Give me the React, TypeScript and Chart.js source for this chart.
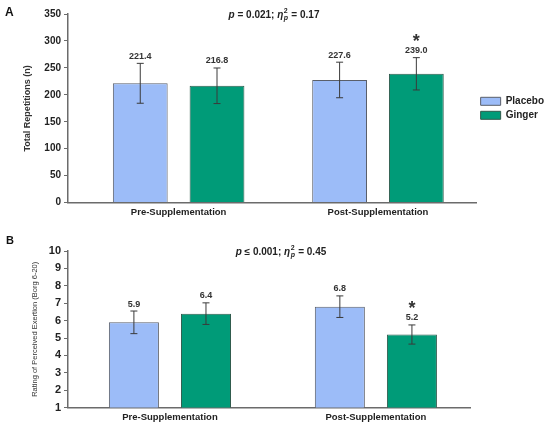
import { Chart, registerables } from "chart.js";
import { useEffect, useRef } from "react";

Chart.register(...registerables);

const FONT = "'Liberation Sans', Arial, sans-serif";

const categories = ["Pre-Supplementation", "Post-Supplementation"];
const seriesNames = ["Placebo", "Ginger"];
const seriesFill = ["#9cbcf8", "#009b78"];
const seriesBorder = ["#5a5f6a", "#2f5a4c"];

// panel A: total repetitions
const repsPlacebo = [221.4, 227.6];
const repsGinger = [216.8, 239.0];
const repsPlaceboSd = [37, 33];
const repsGingerSd = [33, 30];
const repsStars = [
  [false, false],
  [false, true],
];
const repsTicks = [0, 50, 100, 150, 200, 250, 300, 350];

// panel B: rating of perceived exertion
const rpePlacebo = [5.9, 6.8];
const rpeGinger = [6.4, 5.2];
const rpePlaceboSd = [0.65, 0.62];
const rpeGingerSd = [0.62, 0.55];
const rpeStars = [
  [false, false],
  [false, true],
];
const rpeTicks = [1, 2, 3, 4, 5, 6, 7, 8, 9, 10];

// draws "p = 0.021; ηp² = 0.17" with the italic / sub / sup bits
function drawStats(ctx, cx, cy, rel, pVal, eta) {
  const bold = `bold 10px ${FONT}`;
  const boldIt = `italic bold 10px ${FONT}`;
  const small = `bold 7px ${FONT}`;
  const smallIt = `italic bold 7px ${FONT}`;
  const runs = [
    { t: "p", f: boldIt },
    { t: ` ${rel} ${pVal}; `, f: bold },
    { t: "η", f: boldIt },
  ];
  const tail = ` = ${eta}`;
  let w = 0;
  runs.forEach((r) => {
    ctx.font = r.f;
    w += ctx.measureText(r.t).width;
  });
  ctx.font = small;
  const w2 = ctx.measureText("2").width;
  ctx.font = smallIt;
  const wp = ctx.measureText("p").width;
  const stackW = Math.max(w2, wp) + 1;
  ctx.font = bold;
  w += stackW + ctx.measureText(tail).width;

  let x = cx - w / 2;
  ctx.textAlign = "left";
  ctx.textBaseline = "middle";
  runs.forEach((r) => {
    ctx.font = r.f;
    ctx.fillText(r.t, x, cy);
    x += ctx.measureText(r.t).width;
  });
  ctx.font = small;
  ctx.fillText("2", x + 0.5, cy - 4);
  ctx.font = smallIt;
  ctx.fillText("p", x + 0.5, cy + 3.5);
  x += stackW;
  ctx.font = bold;
  ctx.fillText(tail, x, cy);
}

const overlayPlugin = {
  id: "overlay",
  afterDatasetsDraw(chart, _args, opts) {
    const { ctx, scales } = chart;
    const y = scales.y;
    ctx.save();
    chart.data.datasets.forEach((ds, d) => {
      const meta = chart.getDatasetMeta(d);
      meta.data.forEach((bar, i) => {
        const v = ds.data[i].y;
        const e = opts.errors[d][i];
        const top = y.getPixelForValue(v + e);
        const bot = y.getPixelForValue(v - e);
        const x = bar.x;
        ctx.strokeStyle = "#3a3a3a";
        ctx.lineWidth = 1;
        ctx.beginPath();
        ctx.moveTo(x, top);
        ctx.lineTo(x, bot);
        ctx.moveTo(x - 3.5, top);
        ctx.lineTo(x + 3.5, top);
        ctx.moveTo(x - 3.5, bot);
        ctx.lineTo(x + 3.5, bot);
        ctx.stroke();

        ctx.fillStyle = "#333";
        ctx.textAlign = "center";
        ctx.textBaseline = "middle";
        ctx.font = `bold 9px ${FONT}`;
        ctx.fillText(v.toFixed(1), x, top - 7);
        if (opts.stars[d][i]) {
          ctx.font = `bold 18px ${FONT}`;
          ctx.textBaseline = "alphabetic";
          ctx.fillText("*", x, top - 21 + 10);
        }
      });
    });

    ctx.fillStyle = "#222";
    drawStats(ctx, opts.statsX, opts.statsY, opts.stats[0], opts.stats[1], opts.stats[2]);

    ctx.font = `bold ${opts.letterSize}px ${FONT}`;
    ctx.textAlign = "left";
    ctx.textBaseline = "alphabetic";
    ctx.fillStyle = "#111";
    ctx.fillText(opts.letter, opts.letterX, opts.letterY);
    ctx.restore();
  },
};

const PanelChart = ({ panel, top, height }) => {
  const chartRef = useRef(null);

  useEffect(() => {
    const tickList = panel.ticks;
    const chart = new Chart(chartRef.current, {
      type: "bar",
      data: {
        datasets: seriesNames.map((name, s) => ({
          label: name,
          data: panel.values[s].map((v, i) => ({ x: i + 1, y: v })),
          backgroundColor: seriesFill[s],
          borderColor: seriesBorder[s],
          borderWidth: 1,
          borderSkipped: "bottom",
          categoryPercentage: panel.catPct,
          barPercentage: panel.barPct,
        })),
      },
      plugins: [overlayPlugin],
      options: {
        animation: false,
        responsive: true,
        maintainAspectRatio: false,
        layout: { padding: panel.padding },
        plugins: {
          title: { display: false },
          tooltip: { enabled: false },
          legend: {
            display: panel.legend,
            position: "right",
            fullSize: false,
            labels: {
              boxWidth: 20,
              boxHeight: 8,
              padding: 4,
              color: "#222",
              font: { size: 10, weight: "bold", family: FONT },
            },
          },
          overlay: {
            errors: panel.errors,
            stars: panel.stars,
            stats: panel.stats,
            statsX: panel.statsX,
            statsY: panel.statsY,
            letter: panel.letter,
            letterX: panel.letterX,
            letterY: panel.letterY,
            letterSize: panel.letterSize,
          },
        },
        scales: {
          x: {
            type: "linear",
            min: panel.xRange[0],
            max: panel.xRange[1],
            offset: false,
            afterBuildTicks: (s) => {
              s.ticks = categories.map((_, i) => ({ value: i + 1 }));
            },
            ticks: {
              callback: (v) => categories[v - 1],
              color: "#222",
              padding: 4,
              maxRotation: 0,
              autoSkip: false,
              font: { size: 9.5, weight: "bold", family: FONT },
            },
            grid: { display: false, drawTicks: false, tickLength: 0 },
            border: { display: true, color: "#6b6b6b", width: 1.5 },
          },
          y: {
            min: tickList[0],
            max: tickList[tickList.length - 1],
            ticks: {
              stepSize: tickList[1] - tickList[0],
              autoSkip: false,
              color: "#222",
              padding: 3,
              font: { size: panel.tickSize, weight: "bold", family: FONT },
            },
            grid: {
              display: true,
              drawOnChartArea: false,
              drawTicks: true,
              tickLength: 4,
              color: "#6b6b6b",
            },
            border: { display: true, color: "#6b6b6b", width: 1.5 },
            title: {
              display: true,
              text: panel.yTitle,
              color: "#333",
              font: panel.yTitleFont,
              padding: { top: panel.yTitlePad, bottom: 0 },
            },
            afterFit: (s) => {
              s.width = 68;
            },
          },
        },
      },
    });
    return () => chart.destroy();
  }, []);

  return (
    <div style={{ position: "absolute", left: 0, top, width: 550, height }}>
      <canvas ref={chartRef}></canvas>
    </div>
  );
};

const panelA = {
  values: [repsPlacebo, repsGinger],
  errors: [repsPlaceboSd, repsGingerSd],
  stars: repsStars,
  ticks: repsTicks,
  tickSize: 10,
  yTitle: "Total Repetitions (n)",
  yTitleFont: { size: 9, weight: "bold", family: FONT },
  yTitlePad: 22,
  stats: ["=", "0.021", "0.17"],
  statsX: 274,
  statsY: 15,
  letter: "A",
  letterX: 5,
  letterY: 16,
  letterSize: 12,
  xRange: [0.445, 2.495],
  padding: { top: 14, right: -4, bottom: 0, left: 0 },
  legend: true,
  catPct: 0.77,
  barPct: 0.714,
};

const panelB = {
  values: [rpePlacebo, rpeGinger],
  errors: [rpePlaceboSd, rpeGingerSd],
  stars: rpeStars,
  ticks: rpeTicks,
  tickSize: 11,
  yTitle: "Rating of Perceived Exertion (Borg 6-20)",
  yTitleFont: { size: 7.5, weight: "normal", family: FONT },
  yTitlePad: 30,
  stats: ["≤", "0.001", "0.45"],
  statsX: 281,
  statsY: 30,
  letter: "B",
  letterX: 6,
  letterY: 22,
  letterSize: 11,
  xRange: [0.505, 2.457],
  padding: { top: 29, right: 80, bottom: 0, left: 0 },
  legend: false,
  catPct: 0.7,
  barPct: 0.694,
};

export default function App() {
  useEffect(() => {
    document.body.style.margin = "0";
  }, []);

  return (
    <div style={{ position: "relative", width: 550, height: 427, background: "#fff" }}>
      <PanelChart panel={panelA} top={0} height={222} />
      <PanelChart panel={panelB} top={222} height={205} />
    </div>
  );
}
